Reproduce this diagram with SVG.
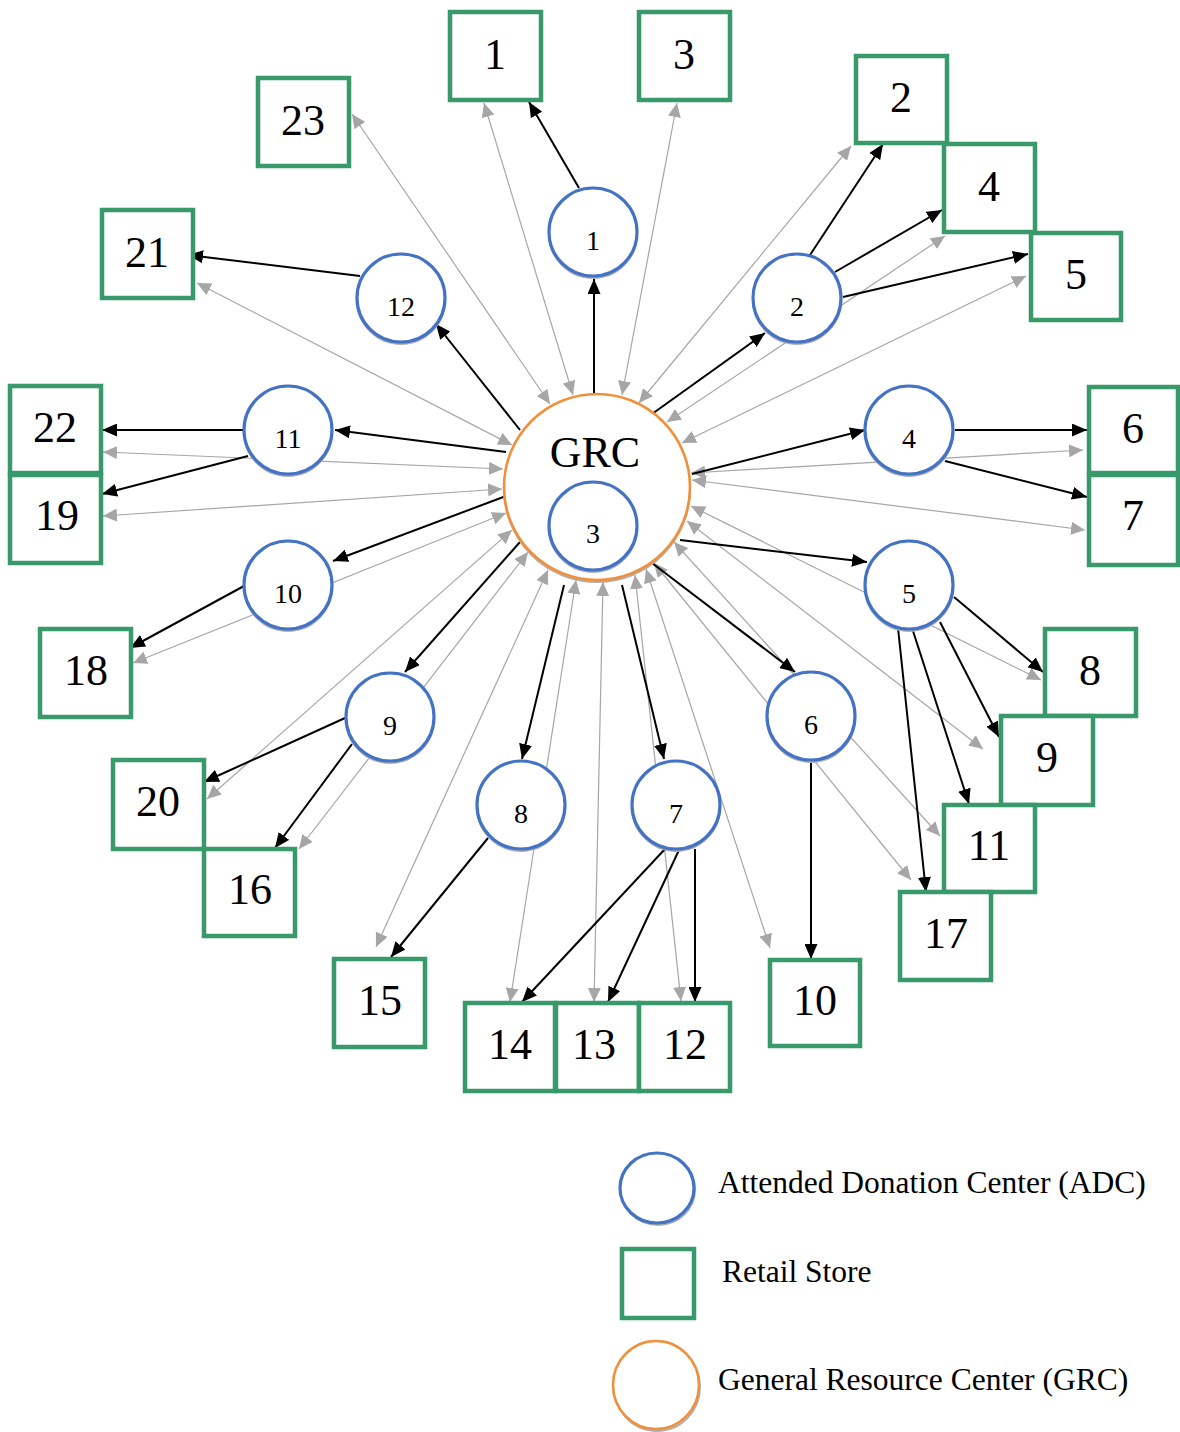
<svg xmlns="http://www.w3.org/2000/svg" width="1180" height="1432" viewBox="0 0 1180 1432">
<style>
.b{stroke:#000;stroke-width:2;fill:none;marker-end:url(#ah)}
.g{stroke:#A6A6A6;stroke-width:1.2;fill:none;marker-start:url(#gh);marker-end:url(#gh)}
.adc{fill:#fff;stroke:#4472C4;stroke-width:3.2}
.sh{fill:none;stroke:#B0B0B0;stroke-width:2}
.st{fill:#fff;stroke:#38996A;stroke-width:4.5}
.grc{fill:#fff;stroke:#F0903A;stroke-width:2.6}
text{font-family:'Liberation Serif',serif;fill:#000}
.lb{font-size:44px;text-anchor:middle}
.cl{font-size:28px;text-anchor:middle}
.lg{font-size:31.5px}
</style>
<defs>
<marker id="ah" viewBox="0 0 15 13" refX="15" refY="6.5" markerWidth="15" markerHeight="13" markerUnits="userSpaceOnUse" orient="auto"><path d="M0,0 L15,6.5 L0,13 z" fill="#000"/></marker>
<marker id="gh" viewBox="0 0 14 13" refX="14" refY="6.5" markerWidth="14" markerHeight="13" markerUnits="userSpaceOnUse" orient="auto-start-reverse"><path d="M0,0 L14,6.5 L0,13 z" fill="#A6A6A6"/></marker>
</defs>
<rect width="1180" height="1432" fill="#fff"/>
<g id="connectors">
<path class="g" d="M484,103 L573,395"/>
<path class="g" d="M677,103 L622,395"/>
<path class="g" d="M352,114 L550,404"/>
<path class="g" d="M197,283 L512,445"/>
<path class="g" d="M851,146 L639,403"/>
<path class="g" d="M945,236 L667,422"/>
<path class="g" d="M1026,276 L682,443"/>
<path class="g" d="M1083,450 L691,473"/>
<path class="g" d="M1085,530 L692,480"/>
<path class="g" d="M1041,680 L691,506"/>
<path class="g" d="M983,749 L687,521"/>
<path class="g" d="M940,836 L674,542"/>
<path class="g" d="M911,880 L654,563"/>
<path class="g" d="M770,948 L646,569"/>
<path class="g" d="M681,1001 L635,575"/>
<path class="g" d="M594,1002 L603,582"/>
<path class="g" d="M510,1002 L576,580"/>
<path class="g" d="M376,947 L548,570"/>
<path class="g" d="M299,849 L528,552"/>
<path class="g" d="M207,799 L512,530"/>
<path class="g" d="M133,663 L506,513"/>
<path class="g" d="M103,516 L502,489"/>
<path class="g" d="M103,452 L503,469"/>
<path class="b" d="M594,394 L594,279"/>
<path class="b" d="M579,188 L529,102"/>
<path class="b" d="M520,430 L436,324"/>
<path class="b" d="M360,276 L188,255"/>
<path class="b" d="M506,452 L335,430"/>
<path class="b" d="M243,430 L102,430"/>
<path class="b" d="M248,456 L102,494"/>
<path class="b" d="M506,496 L333,561"/>
<path class="b" d="M244,586 L130,648"/>
<path class="b" d="M520,542 L405,672"/>
<path class="b" d="M345,718 L204,782"/>
<path class="b" d="M352,744 L275,848"/>
<path class="b" d="M564,585 L522,759"/>
<path class="b" d="M488,838 L391,957"/>
<path class="b" d="M622,585 L664,759"/>
<path class="b" d="M665,849 L522,1002"/>
<path class="b" d="M679,850 L608,1002"/>
<path class="b" d="M695,849 L695,1002"/>
<path class="b" d="M652,563 L795,672"/>
<path class="b" d="M811,762 L811,959"/>
<path class="b" d="M680,540 L867,562"/>
<path class="b" d="M954,597 L1043,672"/>
<path class="b" d="M940,622 L999,737"/>
<path class="b" d="M913,631 L969,804"/>
<path class="b" d="M898,628 L926,892"/>
<path class="b" d="M692,474 L865,430"/>
<path class="b" d="M955,430 L1087,430"/>
<path class="b" d="M945,461 L1087,497"/>
<path class="b" d="M652,414 L765,333"/>
<path class="b" d="M810,255 L883,144"/>
<path class="b" d="M835,272 L942,210"/>
<path class="b" d="M843,297 L1028,254"/>
</g>
<g id="grc"><circle class="sh" cx="597" cy="489" r="93"/><circle class="grc" cx="597" cy="487" r="93"/><text class="lb" x="595" y="467" font-size="43">GRC</text></g>
<g id="adc3"><circle class="sh" cx="593" cy="528" r="44"/><circle class="adc" cx="593" cy="526" r="44"/><text class="cl" x="593" y="543">3</text></g>
<g id="adc1"><circle class="sh" cx="593" cy="234" r="44"/><circle class="adc" cx="593" cy="232" r="44"/><text class="cl" x="593" y="250">1</text></g>
<g id="adc2"><circle class="sh" cx="797" cy="300" r="44"/><circle class="adc" cx="797" cy="298" r="44"/><text class="cl" x="797" y="316">2</text></g>
<g id="adc12"><circle class="sh" cx="401" cy="300" r="44"/><circle class="adc" cx="401" cy="298" r="44"/><text class="cl" x="401" y="316">12</text></g>
<g id="adc11"><circle class="sh" cx="288" cy="432" r="44"/><circle class="adc" cx="288" cy="430" r="44"/><text class="cl" x="288" y="448">11</text></g>
<g id="adc4"><circle class="sh" cx="909" cy="432" r="44"/><circle class="adc" cx="909" cy="430" r="44"/><text class="cl" x="909" y="448">4</text></g>
<g id="adc10"><circle class="sh" cx="288" cy="587" r="44"/><circle class="adc" cx="288" cy="585" r="44"/><text class="cl" x="288" y="603">10</text></g>
<g id="adc5"><circle class="sh" cx="909" cy="587" r="44"/><circle class="adc" cx="909" cy="585" r="44"/><text class="cl" x="909" y="603">5</text></g>
<g id="adc9"><circle class="sh" cx="390" cy="719" r="44"/><circle class="adc" cx="390" cy="717" r="44"/><text class="cl" x="390" y="735">9</text></g>
<g id="adc6"><circle class="sh" cx="811" cy="718" r="44"/><circle class="adc" cx="811" cy="716" r="44"/><text class="cl" x="811" y="734">6</text></g>
<g id="adc8"><circle class="sh" cx="521" cy="807" r="44"/><circle class="adc" cx="521" cy="805" r="44"/><text class="cl" x="521" y="823">8</text></g>
<g id="adc7"><circle class="sh" cx="676" cy="807" r="44"/><circle class="adc" cx="676" cy="805" r="44"/><text class="cl" x="676" y="823">7</text></g>
<g id="store1"><rect class="st" x="450" y="12" width="91" height="88"/><text class="lb" x="495" y="69">1</text></g>
<g id="store3"><rect class="st" x="639" y="12" width="91" height="88"/><text class="lb" x="684" y="69">3</text></g>
<g id="store23"><rect class="st" x="258" y="78" width="91" height="88"/><text class="lb" x="303" y="135">23</text></g>
<g id="store2"><rect class="st" x="856" y="56" width="91" height="87"/><text class="lb" x="901" y="112">2</text></g>
<g id="store4"><rect class="st" x="944" y="144" width="91" height="88"/><text class="lb" x="989" y="201">4</text></g>
<g id="store5"><rect class="st" x="1031" y="233" width="90" height="87"/><text class="lb" x="1076" y="289">5</text></g>
<g id="store21"><rect class="st" x="102" y="210" width="91" height="88"/><text class="lb" x="147" y="267">21</text></g>
<g id="store22"><rect class="st" x="10" y="386" width="91" height="87"/><text class="lb" x="55" y="442">22</text></g>
<g id="store19"><rect class="st" x="10" y="475" width="91" height="88"/><text class="lb" x="57" y="530">19</text></g>
<g id="store18"><rect class="st" x="40" y="629" width="91" height="88"/><text class="lb" x="86" y="685">18</text></g>
<g id="store20"><rect class="st" x="113" y="760" width="91" height="89"/><text class="lb" x="158" y="816">20</text></g>
<g id="store16"><rect class="st" x="204" y="849" width="91" height="87"/><text class="lb" x="250" y="904">16</text></g>
<g id="store6"><rect class="st" x="1089" y="387" width="89" height="86"/><text class="lb" x="1133" y="443">6</text></g>
<g id="store7"><rect class="st" x="1089" y="475" width="89" height="90"/><text class="lb" x="1133" y="530">7</text></g>
<g id="store8"><rect class="st" x="1045" y="629" width="91" height="87"/><text class="lb" x="1090" y="685">8</text></g>
<g id="store9"><rect class="st" x="1001" y="716" width="92" height="89"/><text class="lb" x="1047" y="772">9</text></g>
<g id="store11"><rect class="st" x="944" y="805" width="91" height="87"/><text class="lb" x="989" y="860">11</text></g>
<g id="store17"><rect class="st" x="900" y="892" width="91" height="88"/><text class="lb" x="946" y="948">17</text></g>
<g id="store10"><rect class="st" x="770" y="960" width="90" height="86"/><text class="lb" x="815" y="1015">10</text></g>
<g id="store15"><rect class="st" x="334" y="959" width="91" height="88"/><text class="lb" x="380" y="1015">15</text></g>
<g id="store14"><rect class="st" x="465" y="1003" width="90" height="88"/><text class="lb" x="510" y="1059">14</text></g>
<g id="store13"><rect class="st" x="556" y="1003" width="83" height="88"/><text class="lb" x="594" y="1059">13</text></g>
<g id="store12"><rect class="st" x="639" y="1003" width="91" height="88"/><text class="lb" x="685" y="1059">12</text></g>
<g id="legend">
<ellipse class="sh" cx="658" cy="1190" rx="37" ry="35"/><ellipse class="adc" cx="657" cy="1188" rx="37" ry="35"/>
<text class="lg" x="718" y="1193">Attended Donation Center (ADC)</text>
<rect class="st" x="622" y="1249" width="72" height="69"/>
<text class="lg" x="722" y="1282">Retail Store</text>
<ellipse class="sh" cx="657" cy="1387" rx="43" ry="44"/><ellipse class="grc" cx="656" cy="1385" rx="43" ry="44"/>
<text class="lg" x="718" y="1390">General Resource Center (GRC)</text>
</g>
</svg>
